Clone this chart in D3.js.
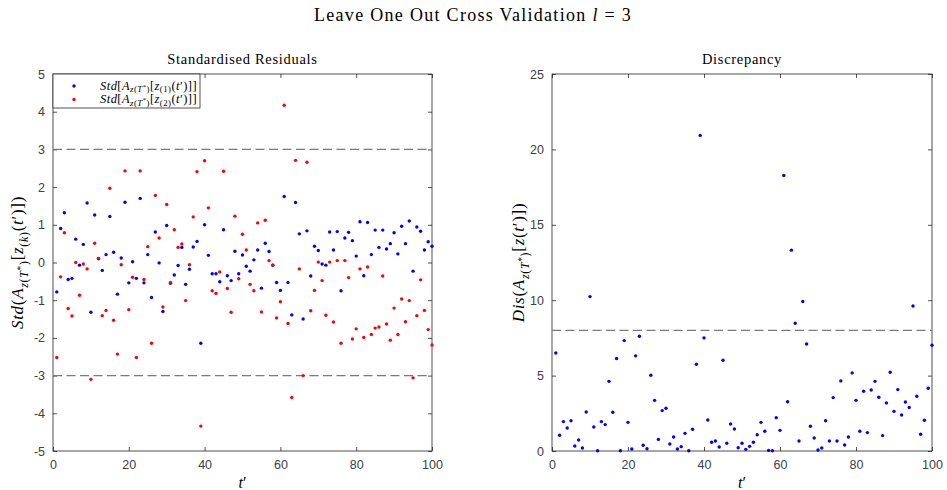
<!DOCTYPE html>
<html>
<head>
<meta charset="utf-8">
<script src="https://cdn.jsdelivr.net/npm/d3@7"></script>
<style>
  body { margin: 0; background: #fff; }
  svg { display: block; }
</style>
</head>
<body>
<svg id="fig" width="947" height="490"></svg>
<script>
// Left-out time index t'
const tIndex = d3.range(1, 101);

// Standardised residuals of the first component z_(1)
const stdZ1 = [
  -0.78, 0.90, 1.32, -0.45, -0.42, 0.62, -0.07, 0.48, 1.58, -1.32,
  1.26, 0.10, -0.21, 0.21, 1.22, 0.27, -0.84, 0.12, 1.60, -0.54,
  0.02, -0.42, 1.70, -0.54, 0.21, -0.93, 0.81, -0.01, -1.30, 0.98,
  -0.55, -0.33, -0.08, 0.40, -0.58, -0.18, 0.41, 0.56, -2.14, 1.00,
  0.19, -0.30, -0.30, -0.51, 0.87, -0.35, -0.48, 0.30, -0.30, 0.20,
  -0.10, -0.23, 0.07, 0.33, -0.68, 0.51, 0.29, -0.07, -0.53, -0.74,
  1.75, -0.53, -1.39, 1.59, 0.76, -1.50, 0.84, -0.36, 0.43, 0.32,
  -0.04, -0.07, 0.81, 0.33, 0.82, -0.75, 0.65, 0.80, 0.58, 0.17,
  1.08, -0.35, 1.06, 0.21, 0.86, 0.40, 0.86, 0.36, 0.50, 0.79,
  0.23, 0.96, 0.50, 1.10, -0.23, 0.94, 0.83, 0.33, 0.55, 0.43
];

// Standardised residuals of the second component z_(2)
const stdZ2 = [
  -2.52, -0.38, 0.79, -1.22, -1.42, 0.00, -0.87, -0.04, -0.17, -3.10,
  0.51, 0.11, -1.41, -1.27, 1.97, -1.53, -2.43, -0.06, 2.43, -1.25,
  -0.39, -2.52, 2.43, -0.45, 0.42, -2.14, 1.78, 0.65, -1.18, 1.54,
  -0.53, 0.87, 0.40, 0.49, -1.01, -0.06, 1.21, 2.41, -4.34, 2.70,
  1.45, -0.75, -0.82, -0.25, 2.42, -0.69, -1.32, 1.23, -0.43, 0.75,
  0.33, -0.58, -0.75, 1.05, -1.31, 1.12, 0.05, -0.07, -1.47, -1.04,
  4.17, -1.62, -3.58, 2.71, -0.17, -3.00, 2.66, -1.28, -0.74, 0.01,
  -0.48, -1.40, 0.01, -1.58, 0.05, -2.14, 0.05, -0.40, -2.03, -1.76,
  -0.17, -1.99, -0.12, -1.91, -1.74, -1.71, -0.36, -1.63, -2.06, -1.21,
  -1.91, -0.97, -1.57, -1.01, -3.06, -1.41, -0.46, -1.27, -1.78, -2.19
];

// Discrepancy of each left-out prediction
const discrepancy = [
  6.50, 1.04, 1.95, 1.53, 2.01, 0.33, 0.73, 0.20, 2.59, 10.24,
  1.59, 0.02, 1.95, 1.75, 4.62, 2.57, 6.13, 0.02, 7.32, 1.90,
  0.13, 6.31, 7.61, 0.38, 0.15, 5.02, 3.36, 0.77, 2.68, 2.83,
  0.46, 0.93, 0.13, 0.29, 1.17, 0.02, 1.44, 5.75, 20.93, 7.50,
  2.06, 0.58, 0.66, 0.27, 6.02, 0.51, 1.79, 1.46, 0.22, 0.51,
  0.11, 0.31, 0.58, 1.08, 1.90, 1.31, 0.04, 0.02, 2.21, 1.37,
  18.27, 3.27, 13.32, 8.47, 0.66, 9.91, 7.10, 1.64, 0.86, 0.07,
  0.20, 2.01, 0.66, 3.54, 0.66, 4.65, 0.40, 0.93, 5.18, 3.36,
  1.31, 3.96, 1.22, 4.05, 4.62, 3.56, 1.02, 3.19, 5.22, 2.63,
  4.07, 2.39, 3.25, 2.88, 9.62, 3.63, 1.11, 2.04, 4.16, 7.01
];

// Axis ticks and reference levels
const tTicks = [0, 20, 40, 60, 80, 100];
const stdTicks = [-5, -4, -3, -2, -1, 0, 1, 2, 3, 4, 5];
const disTicks = [0, 5, 10, 15, 20, 25];
const stdBounds = [-3, 3];
const disBound = [8];

const svg = d3.select("#fig");
const SERIF = "'Liberation Serif', 'DejaVu Serif', serif";
const SANS = "'Liberation Sans', Arial, sans-serif";
const AXIS_COLOR = "#262626";
const TICK_TEXT = "#404040";

svg.append("rect").attr("width", 947).attr("height", 490).attr("fill", "#fff");

// Writes a LaTeX-like label as tspans: [text, level, italic]
// level 0 = baseline, 1 = subscript, 2 = superscript inside a subscript
function mathText(textSel, parts, size, subDrop = 0.3) {
  const shift = [0, subDrop * size, (subDrop - 0.25) * size];
  const scale = [1, 0.7, 0.55];
  let cur = 0;
  parts.forEach(([str, lvl, it]) => {
    textSel.append("tspan")
      .attr("dy", shift[lvl] - cur)
      .attr("font-size", size * scale[lvl])
      .attr("font-style", it ? "italic" : "normal")
      .text(str);
    cur = shift[lvl];
  });
}

function panel(box, yDomain, yTicks, title) {
  const x = d3.scaleLinear().domain([0, 100]).range([box.x0, box.x1]);
  const y = d3.scaleLinear().domain(yDomain).range([box.y1, box.y0]);
  const g = svg.append("g");

  // ticks on all four sides, pointing inward
  const tickLen = 4;
  const axB = d3.axisBottom(x).tickValues(tTicks).tickSize(-tickLen).tickPadding(9).tickFormat(d3.format("d"));
  const axT = d3.axisTop(x).tickValues(tTicks).tickSize(-tickLen).tickFormat("");
  const axL = d3.axisLeft(y).tickValues(yTicks).tickSize(-tickLen).tickPadding(8).tickFormat(d => d < 0 ? "-" + Math.abs(d) : d);
  const axR = d3.axisRight(y).tickValues(yTicks).tickSize(-tickLen).tickFormat("");

  const axes = [
    [axB, `translate(0,${box.y1})`],
    [axT, `translate(0,${box.y0})`],
    [axL, `translate(${box.x0},0)`],
    [axR, `translate(${box.x1},0)`]
  ];
  axes.forEach(([ax, tr]) => {
    const a = g.append("g").attr("transform", tr).call(ax);
    a.select(".domain").remove();
    a.selectAll(".tick line").attr("stroke", AXIS_COLOR).attr("stroke-width", 0.8);
    a.selectAll(".tick text").attr("fill", TICK_TEXT).style("font-family", SANS).style("font-size", "12.5px");
  });

  g.append("rect")
    .attr("x", box.x0).attr("y", box.y0)
    .attr("width", box.x1 - box.x0).attr("height", box.y1 - box.y0)
    .attr("fill", "none").attr("stroke", AXIS_COLOR).attr("stroke-width", 0.8);

  g.append("text")
    .attr("x", (box.x0 + box.x1) / 2).attr("y", 64)
    .attr("text-anchor", "middle")
    .style("font-family", SERIF).style("font-size", "14.5px")
    .style("letter-spacing", "0.7px").attr("fill", "#000")
    .text(title);

  // x label t'
  const xl = g.append("text")
    .attr("x", (box.x0 + box.x1) / 2).attr("y", 488)
    .attr("text-anchor", "middle")
    .style("font-family", SERIF).attr("fill", "#000");
  mathText(xl, [["t", 0, true], ["\u2032", 0, false]], 16);

  return { x, y, g };
}

function hLines(p, values, box) {
  p.g.selectAll(null).data(values).enter().append("line")
    .attr("x1", box.x0).attr("x2", box.x1)
    .attr("y1", d => p.y(d)).attr("y2", d => p.y(d))
    .attr("stroke", "#7a7a7a").attr("stroke-width", 1.3)
    .attr("stroke-dasharray", "9,4.5");
}

function dots(p, values, color) {
  p.g.selectAll(null).data(values).enter().append("circle")
    .attr("cx", (d, i) => p.x(tIndex[i]))
    .attr("cy", d => p.y(d))
    .attr("r", 1.7)
    .attr("fill", color);
}

// ---- Standardised residuals ----
const boxL = { x0: 53, x1: 432, y0: 74, y1: 451 };
const pL = panel(boxL, [-5, 5], stdTicks, "Standardised Residuals");
hLines(pL, stdBounds, boxL);
dots(pL, stdZ1, "#0000ff");
dots(pL, stdZ2, "#ff0000");

const ylL = svg.append("text")
  .attr("transform", `translate(23,${(boxL.y0 + boxL.y1) / 2}) rotate(-90)`)
  .attr("text-anchor", "middle")
  .style("font-family", SERIF).style("letter-spacing", "0.7px").attr("fill", "#000");
mathText(ylL, [
  ["Std", 0, true], ["(", 0, false], ["A", 0, true],
  ["z", 1, true], ["(", 1, false], ["T", 1, true], ["*", 2, false], [")", 1, false],
  ["[", 0, false], ["z", 0, true], ["(", 1, false], ["k", 1, true], [")", 1, false],
  ["(", 0, false], ["t", 0, true], ["\u2032", 0, false], [")])", 0, false]
], 17);

// legend
const leg = { x0: 53, y0: 74, x1: 200, y1: 108 };
svg.append("rect")
  .attr("x", leg.x0).attr("y", leg.y0)
  .attr("width", leg.x1 - leg.x0).attr("height", leg.y1 - leg.y0)
  .attr("fill", "#fff").attr("stroke", AXIS_COLOR).attr("stroke-width", 0.8);
const legendItems = [
  { color: "#0000ff", k: "1" },
  { color: "#ff0000", k: "2" }
];
legendItems.forEach((item, i) => {
  const cy = 86 + i * 13.5;
  svg.append("circle").attr("cx", 74).attr("cy", cy).attr("r", 1.7).attr("fill", item.color);
  const tx = svg.append("text").attr("x", 197).attr("y", cy + 3.5)
    .attr("text-anchor", "end")
    .style("font-family", SERIF).style("letter-spacing", "0.45px").attr("fill", "#000");
  mathText(tx, [
    ["Std", 0, true], ["[", 0, false], ["A", 0, true],
    ["z", 1, true], ["(", 1, false], ["T", 1, true], ["*", 2, false], [")", 1, false],
    ["[", 0, false], ["z", 0, true], ["(" + item.k + ")", 1, false],
    ["(", 0, false], ["t", 0, true], ["\u2032", 0, false], [")]]", 0, false]
  ], 12.5, 0.2);
});

// ---- Discrepancy ----
const boxR = { x0: 552, x1: 932, y0: 74, y1: 451 };
const pR = panel(boxR, [0, 25], disTicks, "Discrepancy");
hLines(pR, disBound, boxR);
dots(pR, discrepancy, "#0000ff");

const ylR = svg.append("text")
  .attr("transform", `translate(524,${(boxR.y0 + boxR.y1) / 2}) rotate(-90)`)
  .attr("text-anchor", "middle")
  .style("font-family", SERIF).style("letter-spacing", "0.7px").attr("fill", "#000");
mathText(ylR, [
  ["Dis", 0, true], ["(", 0, false], ["A", 0, true],
  ["z", 1, true], ["(", 1, false], ["T", 1, true], ["*", 2, false], [")", 1, false],
  ["[", 0, false], ["z", 0, true], ["(", 0, false], ["t", 0, true], ["\u2032", 0, false], [")])", 0, false]
], 17);

// ---- Figure title ----
const ttl = svg.append("text")
  .attr("x", 473).attr("y", 21)
  .attr("text-anchor", "middle")
  .style("font-family", SERIF).style("letter-spacing", "1.3px").attr("fill", "#000");
mathText(ttl, [["Leave One Out Cross Validation ", 0, false], ["l", 0, true], [" = 3", 0, false]], 18);
</script>
</body>
</html>
